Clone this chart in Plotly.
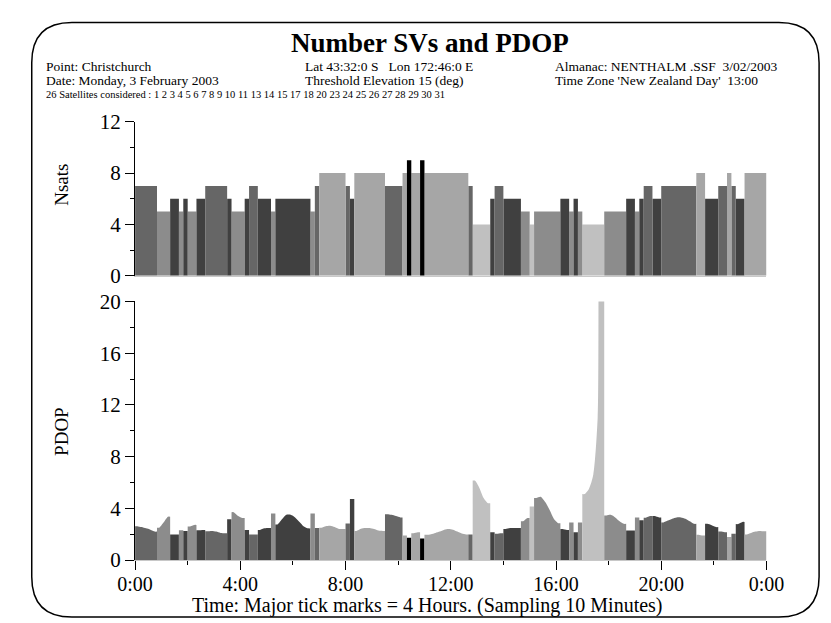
import plotly.graph_objects as go

W, H = 831, 623

# ---------------- data ----------------
sample_minutes = 10
tick_hours = [0, 4, 8, 12, 16, 20, 24]
tick_labels = ["0:00", "4:00", "8:00", "12:00", "16:00", "20:00", "0:00"]

# number of satellites for each 10-minute sample (144 samples = 24 h)
nsats = [
    7, 7, 7, 7, 7, 5, 5, 5, 6, 6, 5, 6, 5, 5, 6, 6, 7, 7, 7, 7, 7, 6, 5, 5,
    5, 6, 7, 7, 6, 6, 6, 5, 6, 6, 6, 6, 6, 6, 6, 6, 5, 7, 8, 8, 8, 8, 8, 8,
    7, 6, 8, 8, 8, 8, 8, 8, 8, 7, 7, 7, 7, 8, 9, 8, 8, 9, 8, 8, 8, 8, 8, 8,
    8, 8, 8, 8, 7, 4, 4, 4, 4, 6, 7, 7, 6, 6, 6, 6, 5, 5, 4, 5, 5, 5, 5, 5,
    5, 6, 6, 5, 6, 5, 4, 4, 4, 4, 4, 5, 5, 5, 5, 5, 6, 6, 5, 6, 7, 7, 6, 6,
    7, 7, 7, 7, 7, 7, 7, 7, 8, 8, 6, 6, 6, 7, 7, 8, 7, 6, 6, 8, 8, 8, 8, 8,
]

# PDOP for each 10-minute sample
pdop = [
    2.62, 2.55, 2.45, 2.35, 2.2, 2.5, 2.9, 3.35, 1.98, 1.98, 2.3, 2.25,
    2.6, 2.72, 2.3, 2.33, 2.22, 2.25, 2.2, 2.1, 2.08, 3.15, 3.7, 3.4,
    3.25, 2.33, 1.98, 1.98, 2.33, 2.45, 2.48, 3.6, 2.75, 3.15, 3.5, 3.5,
    3.3, 2.95, 2.6, 2.45, 3.6, 2.48, 2.5, 2.62, 2.65, 2.55, 2.4, 2.4,
    2.83, 4.73, 2.25, 2.42, 2.48, 2.48, 2.4, 2.28, 2.25, 3.55, 3.5, 3.4,
    3.3, 1.9, 1.73, 2.08, 2.15, 1.66, 1.95, 2.0, 2.1, 2.2, 2.35, 2.4,
    2.35, 2.2, 2.05, 1.98, 1.98, 6.15, 5.6, 4.8, 4.4, 2.15, 2.03, 2.08,
    2.4, 2.48, 2.48, 2.48, 3.0, 3.25, 4.15, 4.8, 4.9, 4.5, 3.9, 3.2,
    2.85, 2.4, 2.33, 2.9, 2.15, 2.9, 5.1, 5.5, 6.6, 11.0, 32.0, 3.45,
    3.5, 3.3, 3.0, 2.8, 2.28, 2.28, 3.3, 3.07, 3.27, 3.4, 3.4, 3.3,
    2.9, 3.05, 3.2, 3.3, 3.3, 3.2, 3.0, 2.8, 1.96, 1.9, 2.8, 2.7,
    2.55, 2.2, 2.15, 1.78, 2.03, 2.78, 2.95, 1.98, 2.1, 2.2, 2.25, 2.22,
]

nsat_colors = {4: "#c0c0c0", 5: "#8c8c8c", 6: "#404040", 7: "#666666",
               8: "#a6a6a6", 9: "#000000"}

header_left = ["Point: Christchurch", "Date: Monday, 3 February 2003"]
header_mid = ["Lat 43:32:0 S\u00a0\u00a0\u00a0Lon 172:46:0 E", "Threshold Elevation 15 (deg)"]
header_right = ["Almanac: NENTHALM .SSF\u00a0\u00a03/02/2003",
                "Time Zone 'New Zealand Day'\u00a0\u00a013:00"]
sat_line = ("26 Satellites considered : 1 2 3 4 5 6 7 8 9 10 11 13 14 15 17 18 20 "
            "23 24 25 26 27 28 29 30 31")

FONT = "Liberation Serif, Times New Roman, serif"
step = sample_minutes / 60.0

# ---------------- segments of constant satellite count ----------------
segs = []
s = 0
for i in range(1, len(nsats) + 1):
    if i == len(nsats) or nsats[i] != nsats[s]:
        segs.append((s, i, nsats[s]))
        s = i

fig = go.Figure()

# top panel: Nsats blocks, one trace per colour
for n, col in nsat_colors.items():
    xs, ys = [], []
    for (a, b, v) in segs:
        if v != n:
            continue
        xs += [a * step, a * step, b * step, b * step, a * step, None]
        ys += [0, v, v, 0, 0, None]
    if xs:
        fig.add_trace(go.Scatter(x=xs, y=ys, fill="toself", fillcolor=col,
                                 mode="lines", line=dict(width=0, color=col),
                                 xaxis="x", yaxis="y", hoverinfo="skip",
                                 showlegend=False))

# bottom panel: PDOP areas coloured by satellite count
for (a, b, v) in segs:
    xs = [a * step] + [(k + 0.5) * step for k in range(a, b)] + [b * step]
    ys = [pdop[a]] + pdop[a:b] + [pdop[b - 1]]
    col = nsat_colors[v]
    fig.add_trace(go.Scatter(x=xs, y=ys, fill="tozeroy", fillcolor=col,
                             mode="lines",
                             line=dict(width=0, color=col, shape="spline", smoothing=0.7),
                             xaxis="x2", yaxis="y2", hoverinfo="skip",
                             showlegend=False))

def px(x):
    return x / W

def py(y):
    return 1 - y / H

xdom = [px(114), px(774)]
axis_common = dict(showgrid=False, zeroline=False)

fig.update_layout(
    width=W, height=H,
    margin=dict(l=0, r=0, t=0, b=0),
    paper_bgcolor="white", plot_bgcolor="white",
    font=dict(family=FONT, color="black"),
    showlegend=False,
    xaxis=dict(domain=xdom, range=[0, 24], anchor="y", showticklabels=False,
               ticks="", showline=True, linecolor="#c8c8c8", linewidth=1,
               **axis_common),
    yaxis=dict(domain=[py(266), py(105.8)], range=[0, 12], anchor="x",
               tickvals=[0, 4, 8, 12], ticks="outside", ticklen=9,
               tickcolor="black", tickwidth=1,
               minor=dict(tickvals=[2, 6, 10], ticks="outside", ticklen=4,
                          tickcolor="black", tickwidth=1),
               showline=True, linecolor="black", linewidth=1,
               tickfont=dict(size=21, family=FONT), **axis_common),
    xaxis2=dict(domain=xdom, range=[0, 24], anchor="y2",
                tickvals=tick_hours, ticktext=tick_labels,
                ticks="outside", ticklen=9, tickcolor="black", tickwidth=1,
                minor=dict(tickvals=[2, 6, 10, 14, 18, 22], ticks="outside",
                           ticklen=4, tickcolor="black", tickwidth=1),
                showline=True, linecolor="#c8c8c8", linewidth=1,
                ticklabelstandoff=-3,
                tickfont=dict(size=20, family=FONT), **axis_common),
    yaxis2=dict(domain=[py(561.7), py(292.7)], range=[0, 20], anchor="x2",
                tickvals=[0, 4, 8, 12, 16, 20], ticks="outside", ticklen=9,
                tickcolor="black", tickwidth=1,
                minor=dict(tickvals=[2, 6, 10, 14, 18], ticks="outside",
                           ticklen=4, tickcolor="black", tickwidth=1),
                showline=True, linecolor="black", linewidth=1,
                tickfont=dict(size=21, family=FONT), **axis_common),
)

# rounded border
x0, x1, y0, y1 = 6, 829, 2.5, 621
rx, ry = 42, 42
path = (
    f"M {px(x0 + rx)},{py(y0)} L {px(x1 - rx)},{py(y0)} "
    f"Q {px(x1)},{py(y0)} {px(x1)},{py(y0 + ry)} "
    f"L {px(x1)},{py(y1 - ry)} "
    f"Q {px(x1)},{py(y1)} {px(x1 - rx)},{py(y1)} "
    f"L {px(x0 + rx)},{py(y1)} "
    f"Q {px(x0)},{py(y1)} {px(x0)},{py(y1 - ry)} "
    f"L {px(x0)},{py(y0 + ry)} "
    f"Q {px(x0)},{py(y0)} {px(x0 + rx)},{py(y0)} Z"
)
fig.add_shape(type="path", path=path, xref="paper", yref="paper",
              line=dict(color="black", width=1.5), layer="above")

ann = []
ann.append(dict(text="<b>Number SVs and PDOP</b>", x=px(422), y=py(24),
                xanchor="center", yanchor="middle", font=dict(size=27)))
for k in range(2):
    yy = py(48 + 14.5 * k)
    ann.append(dict(text=header_left[k], x=px(19), y=yy, xanchor="left",
                    yanchor="middle", font=dict(size=13.5)))
    ann.append(dict(text=header_mid[k], x=px(290), y=yy, xanchor="left",
                    yanchor="middle", font=dict(size=13.5)))
    ann.append(dict(text=header_right[k], x=px(551), y=yy, xanchor="left",
                    yanchor="middle", font=dict(size=13.5)))
ann.append(dict(text=sat_line, x=px(19), y=py(77), xanchor="left",
                yanchor="middle", font=dict(size=10.5)))
ann.append(dict(text="Nsats", x=px(37), y=py(171), xanchor="center",
                yanchor="middle", textangle=-90, font=dict(size=19)))
ann.append(dict(text="PDOP", x=px(37), y=py(428), xanchor="center",
                yanchor="middle", textangle=-90, font=dict(size=19)))
ann.append(dict(text="Time: Major tick marks = 4 Hours. (Sampling 10 Minutes)",
                x=px(420), y=py(609), xanchor="center", yanchor="middle",
                font=dict(size=20)))
for a in ann:
    a.update(xref="paper", yref="paper", showarrow=False)
    a["font"] = dict(family=FONT, color="black", **a["font"])
fig.update_layout(annotations=ann)

fig.write_html("out.html")
